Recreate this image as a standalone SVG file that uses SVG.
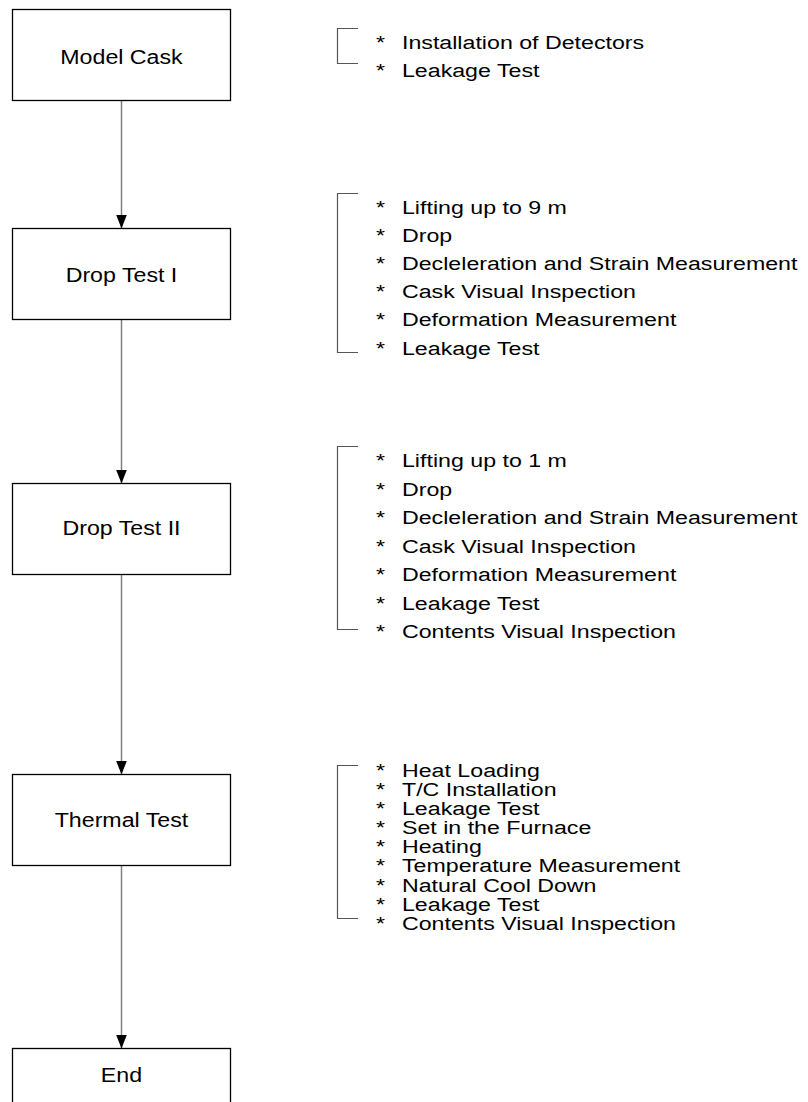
<svg xmlns="http://www.w3.org/2000/svg" width="808" height="1102" viewBox="0 0 808 1102">
<style>
  .box { fill: #ffffff; stroke: #000000; stroke-width: 1.3; }
  .lbl { font-family: "Liberation Sans", Arial, sans-serif; font-size: 20px; fill: #000000; text-anchor: middle; }
  .item { font-family: "Liberation Sans", Arial, sans-serif; font-size: 19px; fill: #000000; }
  .conn { stroke: #7f7f7f; stroke-width: 1.5; fill: none; }
  .brk { stroke: #555555; stroke-width: 1.2; fill: none; }
</style>
<defs>
  <marker id="arrow" markerUnits="userSpaceOnUse" markerWidth="14" markerHeight="12" viewBox="0 -6 14 12" refX="14" refY="0" orient="auto">
    <path d="M0,-5.5 L14,0 L0,5.5 z" fill="#000000"/>
  </marker>
</defs>
<rect width="808" height="1102" fill="#ffffff"/>

<g id="connectors">
  <line class="conn" x1="121.5" y1="100.5" x2="121.5" y2="228.5" marker-end="url(#arrow)"/>
  <line class="conn" x1="121.5" y1="319.5" x2="121.5" y2="483.5" marker-end="url(#arrow)"/>
  <line class="conn" x1="121.5" y1="574.5" x2="121.5" y2="774.5" marker-end="url(#arrow)"/>
  <line class="conn" x1="121.5" y1="865.5" x2="121.5" y2="1048.5" marker-end="url(#arrow)"/>
</g>

<g id="model-cask">
  <rect class="box" x="12.5" y="9.5" width="218" height="91"/>
  <text class="lbl" x="104.74" y="63.7" transform="scale(1.16,1)">Model Cask</text>
</g>
<g id="drop-test-1">
  <rect class="box" x="12.5" y="228.5" width="218" height="91"/>
  <text class="lbl" x="104.74" y="282" transform="scale(1.16,1)">Drop Test I</text>
</g>
<g id="drop-test-2">
  <rect class="box" x="12.5" y="483.5" width="218" height="91"/>
  <text class="lbl" x="104.74" y="535.3" transform="scale(1.16,1)">Drop Test II</text>
</g>
<g id="thermal-test">
  <rect class="box" x="12.5" y="774.5" width="218" height="91"/>
  <text class="lbl" x="104.74" y="827" transform="scale(1.16,1)">Thermal Test</text>
</g>
<g id="end">
  <rect class="box" x="12.5" y="1048.5" width="218" height="91"/>
  <text class="lbl" x="104.74" y="1082" transform="scale(1.16,1)">End</text>
</g>

<g id="list-model-cask">
  <path class="brk" d="M358,28.5 H337.5 V63.5 H358"/>
  <g transform="scale(1.22,1)">
    <text class="item" y="48.7"><tspan x="308.2">*</tspan><tspan x="329.5">Installation of Detectors</tspan></text>
    <text class="item" y="76.7"><tspan x="308.2">*</tspan><tspan x="329.5">Leakage Test</tspan></text>
  </g>
</g>

<g id="list-drop-test-1">
  <path class="brk" d="M358,193.5 H337.5 V352.5 H358"/>
  <g transform="scale(1.22,1)">
    <text class="item" y="213.7"><tspan x="308.2">*</tspan><tspan x="329.5">Lifting up to 9 m</tspan></text>
    <text class="item" y="241.9"><tspan x="308.2">*</tspan><tspan x="329.5">Drop</tspan></text>
    <text class="item" y="270.1"><tspan x="308.2">*</tspan><tspan x="329.5">Decleleration and Strain Measurement</tspan></text>
    <text class="item" y="298.3"><tspan x="308.2">*</tspan><tspan x="329.5">Cask Visual Inspection</tspan></text>
    <text class="item" y="326.5"><tspan x="308.2">*</tspan><tspan x="329.5">Deformation Measurement</tspan></text>
    <text class="item" y="354.7"><tspan x="308.2">*</tspan><tspan x="329.5">Leakage Test</tspan></text>
  </g>
</g>

<g id="list-drop-test-2">
  <path class="brk" d="M358,446.5 H337.5 V629.5 H358"/>
  <g transform="scale(1.22,1)">
    <text class="item" y="467.5"><tspan x="308.2">*</tspan><tspan x="329.5">Lifting up to 1 m</tspan></text>
    <text class="item" y="496"><tspan x="308.2">*</tspan><tspan x="329.5">Drop</tspan></text>
    <text class="item" y="524.5"><tspan x="308.2">*</tspan><tspan x="329.5">Decleleration and Strain Measurement</tspan></text>
    <text class="item" y="553"><tspan x="308.2">*</tspan><tspan x="329.5">Cask Visual Inspection</tspan></text>
    <text class="item" y="581.5"><tspan x="308.2">*</tspan><tspan x="329.5">Deformation Measurement</tspan></text>
    <text class="item" y="610"><tspan x="308.2">*</tspan><tspan x="329.5">Leakage Test</tspan></text>
    <text class="item" y="638.5"><tspan x="308.2">*</tspan><tspan x="329.5">Contents Visual Inspection</tspan></text>
  </g>
</g>

<g id="list-thermal-test">
  <path class="brk" d="M358,765.5 H337.5 V918.5 H358"/>
  <g transform="scale(1.22,1)">
    <text class="item" y="777"><tspan x="308.2">*</tspan><tspan x="329.5">Heat Loading</tspan></text>
    <text class="item" y="796.1"><tspan x="308.2">*</tspan><tspan x="329.5">T/C Installation</tspan></text>
    <text class="item" y="815.2"><tspan x="308.2">*</tspan><tspan x="329.5">Leakage Test</tspan></text>
    <text class="item" y="834.3"><tspan x="308.2">*</tspan><tspan x="329.5">Set in the Furnace</tspan></text>
    <text class="item" y="853.4"><tspan x="308.2">*</tspan><tspan x="329.5">Heating</tspan></text>
    <text class="item" y="872.5"><tspan x="308.2">*</tspan><tspan x="329.5">Temperature Measurement</tspan></text>
    <text class="item" y="891.6"><tspan x="308.2">*</tspan><tspan x="329.5">Natural Cool Down</tspan></text>
    <text class="item" y="910.7"><tspan x="308.2">*</tspan><tspan x="329.5">Leakage Test</tspan></text>
    <text class="item" y="929.8"><tspan x="308.2">*</tspan><tspan x="329.5">Contents Visual Inspection</tspan></text>
  </g>
</g>
</svg>
